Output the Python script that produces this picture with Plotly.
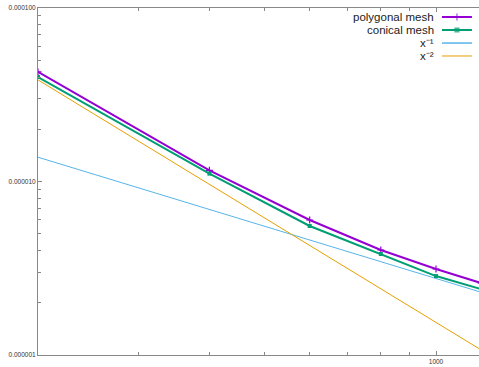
import plotly.graph_objects as go

# ---- data ----
x_vals = [200, 400, 600, 800, 1000, 1200]
polygonal = [4.28e-5, 1.16e-5, 6.0e-6, 4.03e-6, 3.13e-6, 2.60e-6]
conical = [4.0e-5, 1.11e-5, 5.54e-6, 3.82e-6, 2.85e-6, 2.40e-6]
ref_x1 = [1.38e-5, 6.9e-6, 4.6e-6, 3.45e-6, 2.76e-6, 2.3e-6]
ref_x2 = [3.85e-5, 9.6e-6, 4.28e-6, 2.41e-6, 1.54e-6, 1.07e-6]

y_tickvals = [1e-6, 1e-5, 1e-4]
y_ticktext = ["0.000001", "0.000010", "0.000100"]
x_tickvals = [1000]
x_ticktext = ["1000"]

legend_names = ["polygonal mesh", "conical mesh", "x⁻¹", "x⁻²"]

PURPLE = "#9400d3"
GREEN = "#009e73"
BLUE = "#56b4e9"
ORANGE = "#e69f00"
AXIS = "#888888"
FONT = "Liberation Sans"

fig = go.Figure()

fig.add_trace(go.Scatter(x=x_vals, y=ref_x1, mode="lines",
                         line=dict(color=BLUE, width=1), showlegend=False))
fig.add_trace(go.Scatter(x=x_vals, y=ref_x2, mode="lines",
                         line=dict(color=ORANGE, width=1), showlegend=False))
fig.add_trace(go.Scatter(x=x_vals, y=polygonal, mode="lines+markers",
                         line=dict(color=PURPLE, width=2),
                         marker=dict(symbol="cross-thin", size=5,
                                     line=dict(color=PURPLE, width=1.2)),
                         showlegend=False))
fig.add_trace(go.Scatter(x=x_vals, y=conical, mode="lines+markers",
                         line=dict(color=GREEN, width=2),
                         marker=dict(symbol="square", size=4, color=GREEN),
                         showlegend=False))

# ---- custom gnuplot-style legend (text right, sample on the right) ----
leg_colors = [PURPLE, GREEN, BLUE, ORANGE]
leg_widths = [2, 2, 1.5, 1]
leg_symbols = ["cross-thin", "square", None, None]
leg_y = [0.974, 0.9366, 0.899, 0.8617]
for name, c, w, s, yy in zip(legend_names, leg_colors, leg_widths, leg_symbols, leg_y):
    fig.add_annotation(x=0.9025, y=yy, xref="paper", yref="paper",
                       text=name, showarrow=False, xanchor="right", yanchor="middle",
                       font=dict(size=11.5, color="#222222", family=FONT))
    if s is None:
        fig.add_trace(go.Scatter(x=[0.916, 0.984], y=[yy, yy], xaxis="x2", yaxis="y2",
                                 mode="lines", line=dict(color=c, width=w),
                                 showlegend=False, hoverinfo="skip"))
    else:
        fig.add_trace(go.Scatter(x=[0.916, 0.95, 0.984], y=[yy, yy, yy], xaxis="x2", yaxis="y2",
                                 mode="lines+markers", line=dict(color=c, width=w),
                                 marker=dict(symbol=s, size=[0, 5 if s == "cross-thin" else 4, 0],
                                             color=c, line=dict(color=c, width=1.2)),
                                 showlegend=False, hoverinfo="skip"))

minor_x = [300, 400, 500, 600, 700, 800, 900]
minor_y = [k * 1e-6 for k in range(2, 10)] + [k * 1e-5 for k in range(2, 10)]

fig.update_layout(
    width=479, height=367, autosize=False,
    margin=dict(l=38, r=0, t=8, b=12),
    paper_bgcolor="white", plot_bgcolor="white",
    font=dict(family=FONT, size=7, color="#333333"),
    showlegend=False,
    xaxis=dict(type="log", range=[2.30103, 3.0755], automargin=False,
               tickmode="array", tickvals=x_tickvals, ticktext=x_ticktext,
               ticks="inside", ticklen=4, tickcolor=AXIS, tickwidth=1,
               showline=True, linecolor=AXIS, linewidth=1, mirror="ticks",
               showgrid=False, zeroline=False, tickfont=dict(size=6.5),
               minor=dict(tickmode="array", tickvals=minor_x, ticks="inside",
                          ticklen=3, tickcolor=AXIS, showgrid=False)),
    yaxis=dict(type="log", range=[-6, -4], automargin=False,
               tickmode="array", tickvals=y_tickvals, ticktext=y_ticktext,
               ticks="inside", ticklen=4, tickcolor=AXIS, tickwidth=1,
               showline=True, linecolor=AXIS, linewidth=1,
               showgrid=False, zeroline=False, tickfont=dict(size=6.5),
               minor=dict(tickmode="array", tickvals=minor_y, ticks="inside",
                          ticklen=3, tickcolor=AXIS, showgrid=False)),
    xaxis2=dict(overlaying="x", range=[0, 1], visible=False, fixedrange=True),
    yaxis2=dict(overlaying="y", range=[0, 1], visible=False, fixedrange=True),
)

post = ("document.body.style.margin='0';document.body.style.padding='0';"
        "document.body.style.overflow='hidden';"
        "document.documentElement.style.overflow='hidden';"
        "Plotly.relayout('{plot_id}', {width:479, height:367});")

fig.write_html("out.html", post_script=post,
               config={"responsive": False, "displayModeBar": False})
